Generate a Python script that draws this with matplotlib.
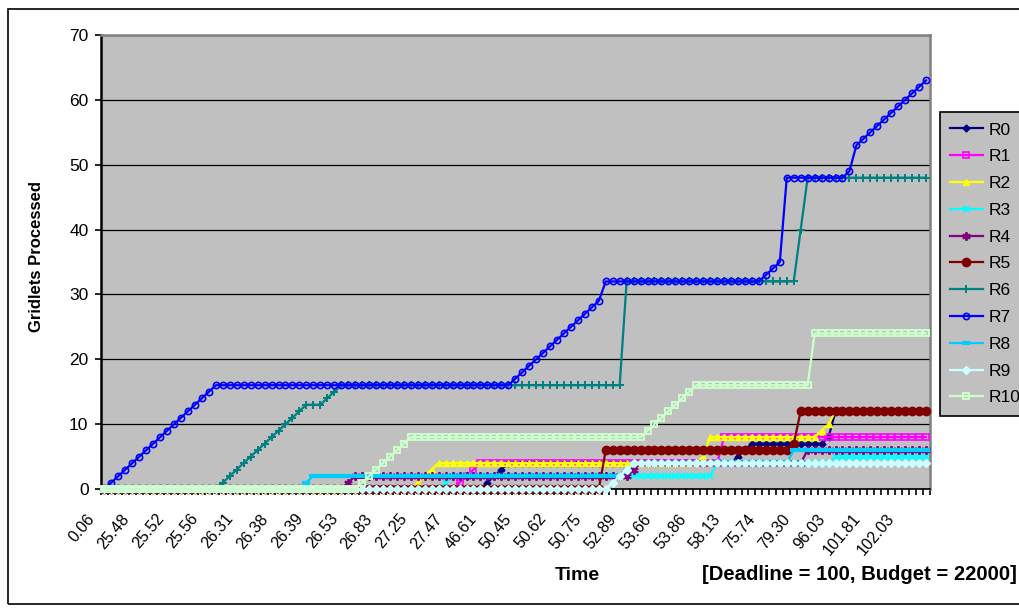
import numpy as np
import matplotlib.pyplot as plt
from matplotlib.patches import Rectangle
from matplotlib.ticker import FixedLocator
from matplotlib.transforms import ScaledTranslation

plt.rcParams['font.family'] = ['Liberation Sans', 'DejaVu Sans']

# Gridlets processed by each resource, one value per simulation event (119 events)
r0 = [0] * 55 + [1, 2, 3] + [4] * 33 + [5, 6] + [7] * 11 + [8] + [12] * 14
r1 = [0] * 51 + [1, 2, 3] + [4] * 35 + [8] * 30
r2 = [0] * 45 + [1, 2, 3] + [4] * 38 + [5] + [8] * 16 + [9, 10] + [12] * 14
r3 = [0] * 49 + [1] + [2] * 38 + [4] * 17 + [5] * 14
r4 = [0] * 35 + [1] + [2] * 40 + [3] + [4] * 24 + [6] * 18
r5 = [0] * 72 + [6] * 27 + [7] + [12] * 19
r6 = ([0] * 17 + [1, 2, 3, 4, 5, 6, 7, 8, 9, 10, 11, 12, 13, 13, 13, 14, 15]
      + [16] * 41 + [32] * 25 + [40] + [48] * 18)
r7 = ([0, 1, 2, 3, 4, 5, 6, 7, 8, 9, 10, 11, 12, 13, 14, 15, 16] + [16] * 42
      + [17, 18, 19, 20, 21, 22, 23, 24, 25, 26, 27, 28, 29] + [32] * 23
      + [33, 34, 35] + [48] * 9 + [49]
      + [53, 54, 55, 56, 57, 58, 59, 60, 61, 62, 63])
r8 = [0] * 29 + [1] + [2] * 45 + [3] + [4] * 23 + [6] * 20
r9 = [0] * 73 + [1, 2, 3] + [4] * 43
r10 = ([0] * 37 + [1, 2, 3, 4, 5, 6, 7, 8] + [8] * 33
       + [9, 10, 11, 12, 13, 14, 15, 16] + [16] * 16 + [24] * 17)

series = [r0, r1, r2, r3, r4, r5, r6, r7, r8, r9, r10]
names = ['R0', 'R1', 'R2', 'R3', 'R4', 'R5', 'R6', 'R7', 'R8', 'R9', 'R10']

# every fifth time stamp is shown on the axis
time_labels = ['0.06', '25.48', '25.52', '25.56', '26.31', '26.38', '26.39',
               '26.53', '26.83', '27.25', '27.47', '46.61', '50.45', '50.62',
               '50.75', '52.89', '53.66', '53.86', '58.13', '75.74', '79.30',
               '96.03', '101.81', '102.03']
label_step = 5

colors = ['#000080', '#FF00FF', '#FFFF00', '#00FFFF', '#800080', '#800000',
          '#008080', '#0000FF', '#00CCFF', '#CCFFFF', '#CCFFCC']
markers = ['D', 's', '^', 'x', (6, 2, 0), 'o', '+', 'o', '_', 'D', 's']
hollow = [False, True, False, False, False, False, False, True, False, False, True]
msizes = [3.5, 4, 5, 5, 6, 6, 6, 4.5, 6, 4.5, 4.5]
medges = [1.0, 1.2, 1.0, 1.4, 1.4, 1.0, 1.4, 1.2, 3.0, 1.0, 1.4]

n = len(r7)
x = np.arange(n)

fig = plt.figure(figsize=(10.19, 6.08), dpi=100)
ax = fig.add_axes([101 / 1019, 1 - 489 / 608, 828.5 / 1019, 454 / 608])
ax.set_facecolor('#C0C0C0')

for vals, name, c, m, h, ms, mew in zip(series, names, colors, markers,
                                        hollow, msizes, medges):
    ax.plot(x, vals, color=c, lw=1.6, marker=m, markersize=ms,
            markerfacecolor='none' if h else c, markeredgecolor=c,
            markeredgewidth=mew, label=name, clip_on=False, zorder=3)

ax.set_ylim(0, 70)
ax.set_yticks(range(0, 71, 10))
ax.yaxis.grid(True, color='black', lw=0.9)
ax.set_axisbelow(True)

# tick marks between every category, rotated labels on every fifth one
ax.set_xticks([])
ax.xaxis.set_minor_locator(FixedLocator(np.arange(-0.5, n, 1)))
ax.tick_params(axis='x', which='minor', length=4, width=1.2, color='black')
ax.set_xlim(-0.5, n - 0.5)
offset = ScaledTranslation(-13 / 100, -27 / 100, fig.dpi_scale_trans)
for i, lab in enumerate(time_labels):
    ax.text(i * label_step, 0, lab, transform=ax.get_xaxis_transform() + offset,
            rotation=50, ha='right', va='center', rotation_mode='anchor',
            fontsize=11.5)

ax.tick_params(axis='y', length=4, width=1.2, labelsize=12.5, pad=5)

ax.spines['left'].set_linewidth(1.8)
ax.spines['bottom'].set_linewidth(1.2)
for s in ('top', 'right'):
    ax.spines[s].set_color('#808080')
    ax.spines[s].set_linewidth(1.8)

fig.text(37 / 1019, 1 - 256 / 608, 'Gridlets Processed', rotation=90,
         ha='center', va='center', fontsize=12, fontweight='bold')
fig.text(577 / 1019, 1 - 575 / 608, 'Time', ha='center', va='center',
         fontsize=14, fontweight='bold')
fig.text(1017 / 1019, 1 - 575 / 608, '[Deadline = 100, Budget = 22000]',
         ha='right', va='center', fontsize=14.6, fontweight='bold')

leg = fig.legend(loc='upper left', bbox_to_anchor=(940 / 1019, 1 - 112 / 608),
                 bbox_transform=fig.transFigure, fontsize=12.5, numpoints=1,
                 handlelength=1.85, labelspacing=0.67, borderaxespad=0,
                 borderpad=0.6, handletextpad=0.35, fancybox=False,
                 facecolor='#C0C0C0', edgecolor='black', framealpha=1)
leg.get_frame().set_linewidth(1.2)

fig.patches.append(Rectangle((8 / 1019, 4 / 608), 1.1, 1 - 13 / 608,
                             transform=fig.transFigure, fill=False,
                             edgecolor='black', lw=1.2))

fig.savefig('out.png', dpi=100)
